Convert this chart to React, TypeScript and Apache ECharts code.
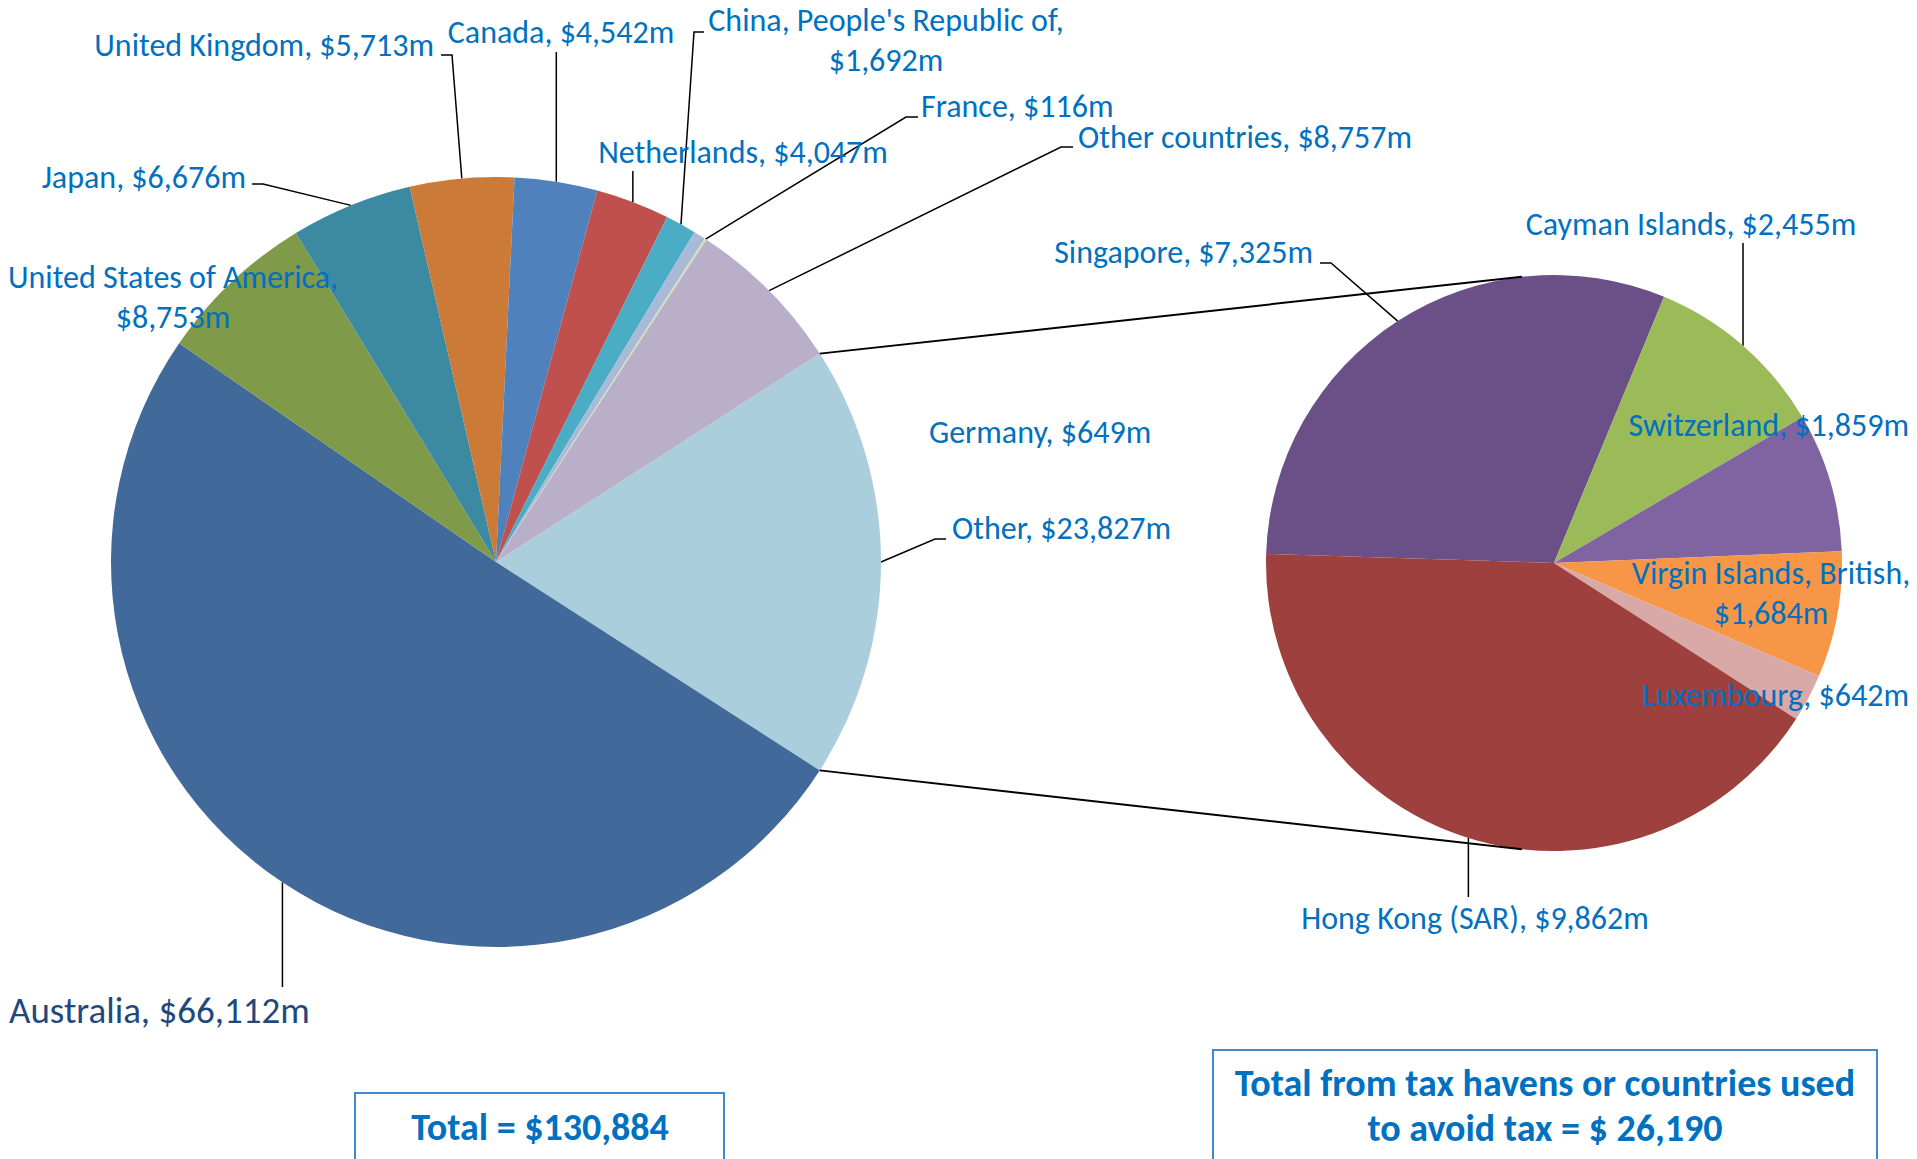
import React, { useEffect, useRef } from "react";
import * as echarts from "echarts";

// ---------- data ----------
const mainNames = [
  "Other",
  "Australia",
  "United States of America",
  "Japan",
  "United Kingdom",
  "Canada",
  "Netherlands",
  "China, People's Republic of",
  "Germany",
  "France",
  "Other countries",
];
const mainValues = [23827, 66112, 8753, 6676, 5713, 4542, 4047, 1692, 649, 116, 8757];
const mainColors = [
  "#AACEDC", "#416A9A", "#7F9A48", "#3C8AA2", "#CB7A38", "#4F81BD",
  "#C0504D", "#4BACC6", "#A9BAD9", "#D3DEB5", "#B9AFC9",
];

const havenNames = [
  "Singapore",
  "Cayman Islands",
  "Switzerland",
  "Virgin Islands, British",
  "Luxembourg",
  "Hong Kong (SAR)",
];
const havenValues = [7325, 2455, 1859, 1684, 642, 9862];
const havenColors = ["#6A5087", "#9BBB59", "#8064A2", "#F79646", "#D9A9A8", "#9E413E"];

const havenBoxLines = ["Total from tax havens or countries used", "to avoid tax = $ 26,190"];

// ---------- layout ----------
const FONT = "Carlito, Lato, 'Open Sans', sans-serif";
const TEXT_BLUE = "#0070C0";
const MAIN = { cx: 496, cy: 562, r: 385 };
const HAVEN = { cx: 1554, cy: 563, r: 288 };
const HAVEN_START = 178.2;
const CONNECT_ANGLE = 96.4; // where connector lines meet the secondary pie
const LABEL_SIZE = 32;
const BIG_LABEL_SIZE = 37;
const BOX_SIZE = 38;

type Lead =
  | null
  | { kind: "v"; ay: number }
  | { kind: "h"; ax: number; ay: number; dx: number };
type LabelPos = { x: number; y: number; align: string; lead: Lead; wrap?: boolean; big?: boolean };

const mainLabelLayout: LabelPos[] = [
  { x: 952, y: 528, align: "left", lead: { kind: "h", ax: 946, ay: 539, dx: -11 } },
  { x: 9, y: 1010, align: "left", lead: { kind: "v", ay: 987 }, big: true },
  { x: 173, y: 297, align: "center", lead: null, wrap: true },
  { x: 246, y: 177, align: "right", lead: { kind: "h", ax: 252, ay: 184, dx: 11 } },
  { x: 434, y: 45, align: "right", lead: { kind: "h", ax: 441, ay: 55, dx: 11 } },
  { x: 561, y: 32, align: "center", lead: { kind: "v", ay: 52 } },
  { x: 743, y: 152, align: "center", lead: { kind: "v", ay: 171 } },
  { x: 886, y: 40, align: "center", lead: { kind: "h", ax: 704, ay: 32, dx: -10 }, wrap: true },
  { x: 929, y: 432, align: "left", lead: null },
  { x: 921, y: 106, align: "left", lead: { kind: "h", ax: 918, ay: 117, dx: -12 } },
  { x: 1078, y: 137, align: "left", lead: { kind: "h", ax: 1073, ay: 147, dx: -12 } },
];

const havenLabelLayout: LabelPos[] = [
  { x: 1313, y: 252, align: "right", lead: { kind: "h", ax: 1320, ay: 263, dx: 11 } },
  { x: 1691, y: 224, align: "center", lead: { kind: "v", ay: 243 } },
  { x: 1909, y: 425, align: "right", lead: null },
  { x: 1771, y: 593, align: "center", lead: null, wrap: true },
  { x: 1909, y: 695, align: "right", lead: null },
  { x: 1475, y: 918, align: "center", lead: { kind: "v", ay: 897 } },
];

// ---------- helpers ----------
const fmt = (v: number) => v.toLocaleString("en-US");
const sum = (a: number[]) => a.reduce((s, v) => s + v, 0);

function midAngles(values: number[], start: number): number[] {
  const total = sum(values);
  const out: number[] = [];
  let a = start;
  for (const v of values) {
    const span = (v / total) * 360;
    out.push(a - span / 2);
    a -= span;
  }
  return out;
}

function arcPoint(g: { cx: number; cy: number; r: number }, deg: number): number[] {
  const rad = (deg * Math.PI) / 180;
  return [g.cx + g.r * Math.cos(rad), g.cy - g.r * Math.sin(rad)];
}

function buildSeries(
  names: string[],
  values: number[],
  colors: string[],
  layout: LabelPos[],
  geo: { cx: number; cy: number; r: number },
  start: number
) {
  const mids = midAngles(values, start);
  return {
    type: "pie",
    silent: true,
    center: [geo.cx, geo.cy],
    radius: [0, geo.r],
    startAngle: start,
    clockwise: true,
    avoidLabelOverlap: false,
    label: {
      show: true,
      position: "outside",
      color: TEXT_BLUE,
      fontFamily: FONT,
      fontSize: LABEL_SIZE,
      lineHeight: 40,
    },
    labelLine: { show: true, lineStyle: { color: "#000", width: 1.5 } },
    itemStyle: { borderWidth: 0 },
    data: names.map((n, i) => {
      const L = layout[i];
      const text = `${n},${L.wrap ? "\n" : " "}$${fmt(values[i])}m`;
      const item: any = {
        name: n,
        value: values[i],
        itemStyle: { color: colors[i] },
        label: { formatter: text },
      };
      if (L.big) item.label = { formatter: text, fontSize: BIG_LABEL_SIZE, color: "#1F497D" };
      if (!L.lead) item.labelLine = { show: false };
      return item;
    }),
    labelLayout: (p: any) => {
      const L = layout[p.dataIndex];
      const res: any = { x: L.x, y: L.y, align: L.align, verticalAlign: "middle" };
      if (L.lead) {
        const a = arcPoint(geo, mids[p.dataIndex]);
        if (L.lead.kind === "v") {
          res.labelLinePoints = [a, [a[0], L.lead.ay]];
        } else {
          res.labelLinePoints = [a, [L.lead.ax + L.lead.dx, L.lead.ay], [L.lead.ax, L.lead.ay]];
        }
      }
      return res;
    },
  };
}

export default function App() {
  const ref = useRef<HTMLDivElement>(null);
  useEffect(() => {
    if (!ref.current) return;
    const chart = echarts.init(ref.current, undefined, { renderer: "svg" });

    const mainTotal = sum(mainValues);
    const otherHalf = (mainValues[0] / mainTotal) * 180; // "Other" centred on 3 o'clock
    const mainStart = otherHalf;
    const upFrom = arcPoint(MAIN, otherHalf);
    const downFrom = arcPoint(MAIN, -otherHalf);
    const upTo = arcPoint(HAVEN, CONNECT_ANGLE);
    const downTo = arcPoint(HAVEN, -CONNECT_ANGLE);

    chart.setOption({
      animation: false,
      backgroundColor: "#fff",
      series: [
        buildSeries(mainNames, mainValues, mainColors, mainLabelLayout, MAIN, mainStart),
        buildSeries(havenNames, havenValues, havenColors, havenLabelLayout, HAVEN, HAVEN_START),
      ],
      graphic: [
        {
          type: "line",
          z: 100,
          shape: { x1: upFrom[0], y1: upFrom[1], x2: upTo[0], y2: upTo[1] },
          style: { stroke: "#000", lineWidth: 2 },
        },
        {
          type: "line",
          z: 100,
          shape: { x1: downFrom[0], y1: downFrom[1], x2: downTo[0], y2: downTo[1] },
          style: { stroke: "#000", lineWidth: 2 },
        },
        {
          type: "rect",
          z: 100,
          shape: { x: 355, y: 1093, width: 369, height: 120 },
          style: { fill: "#fff", stroke: "#3E89CF", lineWidth: 2 },
        },
        {
          type: "text",
          z: 101,
          style: {
            text: `Total = $${fmt(mainTotal)}`,
            x: 540,
            y: 1127,
            align: "center",
            verticalAlign: "middle",
            fontFamily: FONT,
            fontWeight: "bold",
            fontSize: BOX_SIZE,
            fill: TEXT_BLUE,
          },
        },
        {
          type: "rect",
          z: 100,
          shape: { x: 1213, y: 1050, width: 664, height: 160 },
          style: { fill: "#fff", stroke: "#3E89CF", lineWidth: 2 },
        },
        {
          type: "text",
          z: 101,
          style: {
            text: havenBoxLines.join("\n"),
            x: 1545,
            y: 1105,
            align: "center",
            verticalAlign: "middle",
            lineHeight: 45,
            fontFamily: FONT,
            fontWeight: "bold",
            fontSize: BOX_SIZE,
            fill: TEXT_BLUE,
          },
        },
      ],
    });
    return () => chart.dispose();
  }, []);
  return (
    <div
      ref={ref}
      style={{ position: "fixed", left: 0, top: 0, width: 1917, height: 1159, background: "#fff" }}
    />
  );
}
